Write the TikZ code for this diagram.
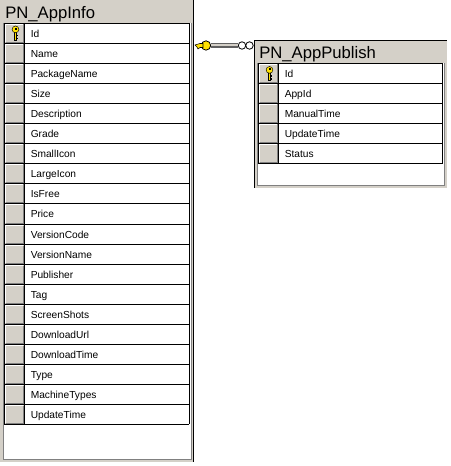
\documentclass[tikz,border=0pt]{standalone}
\usepackage{fontspec}
\setmainfont{Liberation Sans}
\definecolor{chrome}{RGB}{212,208,200}
\definecolor{framegray}{RGB}{128,128,128}
\definecolor{keygold}{RGB}{255,225,0}
\tikzset{
  x=0.75pt,y=-0.75pt,
  frame/.style={fill=chrome,inner sep=0pt,anchor=north west},
  rowtext/.style={anchor=base west,inner sep=0pt,font=\fontsize{7.65}{9}\selectfont,text=black},
  titletext/.style={anchor=base west,inner sep=0pt,font=\fontsize{12.5}{14}\selectfont,text=black},
  grid/.style={draw=black,line width=0.75pt},
  edge/.style={draw=black,line width=0.75pt},
  inner/.style={draw=framegray,line width=0.75pt},
  relline/.style={draw=framegray!75!black,line width=3.2pt},
  relcore/.style={draw=chrome,line width=1.5pt},
  ring/.style={circle,draw=black,fill=white,line width=0.6pt,minimum size=5.6pt,inner sep=0pt},
  hub/.style={circle,draw=black,fill=keygold,line width=0.6pt,minimum size=7pt,inner sep=0pt},
  keyshape/.style={draw=black,fill=keygold,line width=0.4pt}
}
\newcommand{\pkey}[2]{%
  \fill[keygold,draw=black,line width=0.35pt] (#1-1.2,#2-1) -- (#1+1.2,#2-1) -- (#1+1.2,#2+7) -- (#1-1.2,#2+7) -- cycle;
  \fill[black] (#1+1.2,#2+2) rectangle (#1+2.8,#2+3.2);
  \fill[black] (#1+1.2,#2+5) rectangle (#1+2.8,#2+6.2);
  \fill[keygold,draw=black,line width=0.35pt] (#1,#2-3.6) ellipse [x radius=3.4,y radius=3.4];
  \fill[black] (#1-1,#2-5) rectangle (#1+1,#2-3.4);
}
% table: #1 left px, #2 first row top, #3 right px, #4 list of rows
\newcommand{\tablerows}[4]{%
  \foreach \name [count=\i from 0] in {#4} {
    \pgfmathsetmacro{\yt}{round(#2+20.05*\i)+.5}
    \pgfmathsetmacro{\yb}{round(#2+20.05*(\i+1))+.5}
    \fill[chrome] (#1+1,\yt+.5) rectangle (#1+20,\yb-.5);
    \draw[white,line width=0.75pt] (#1+1.5,\yb-1.5) -- (#1+1.5,\yt+1) -- (#1+18.5,\yt+1);
    \draw[framegray,line width=0.75pt] (#1+1.5,\yb-1) -- (#1+19,\yb-1) -- (#1+19,\yt+1);
    \draw[grid] (#1,\yb) -- (#3,\yb);
    \node[rowtext] (r#1n\i) at (#1+26.5,\yt+14) {\name};
  }
}
\begin{document}
\begin{tikzpicture}
\useasboundingbox (0,0) rectangle (450,466);
\fill[white] (0,0) rectangle (450,466);
% left table
\node[frame,minimum width=144.75pt,minimum height=346.5pt] (appinfo) at (0,0) {};
\fill[white] (4,23) rectangle (191,459);
\draw[inner] (3.5,23) -- (3.5,459.5) -- (191.5,459.5) -- (191.5,23);
\draw[edge] (193.5,0) -- (193.5,462);
\node[titletext] (titleA) at (5,19) {PN\_AppInfo};
\draw[grid] (4,23.5) -- (189,23.5);
\tablerows{4}{23}{189}{Id,Name,PackageName,Size,Description,Grade,SmallIcon,LargeIcon,IsFree,Price,VersionCode,VersionName,Publisher,Tag,ScreenShots,DownloadUrl,DownloadTime,Type,MachineTypes,UpdateTime}
\draw[grid] (4.5,23) -- (4.5,424);
\draw[grid] (24.5,23) -- (24.5,424);
\draw[grid] (189.5,23) -- (189.5,424);
\pkey{15.5}{33}
% right table
\node[frame,minimum width=144.4pt,minimum height=110.6pt] (apppub) at (254.5,40.5) {};
\draw[edge] (254.5,188) -- (254.5,40.5) -- (447,40.5);
\fill[white] (258,63) rectangle (444,185);
\draw[inner] (257.5,63) -- (257.5,185.5) -- (444.5,185.5) -- (444.5,63);
\node[titletext] (titleB) at (259,59) {PN\_AppPublish};
\draw[grid] (258,63.5) -- (443,63.5);
\tablerows{258}{63}{443}{Id,AppId,ManualTime,UpdateTime,Status}
\draw[grid] (258.5,63) -- (258.5,164);
\draw[grid] (278.5,63) -- (278.5,164);
\draw[grid] (442.5,63) -- (442.5,164);
\pkey{269.5}{73.5}
% relationship
\node[hub] (hubA) at (206,45.5) {};
\node[ring] (ringA) at (242,45.5) {};
\node[ring] (ringB) at (249.5,45.5) {};
\draw[relline] (hubA) -- (ringA);
\draw[relcore] (hubA) -- (ringA);
\draw[keyshape] (195,45) -- (200,43.5) -- (203,43.5) -- (203,47.5) -- (200,47.5) -- (198,49) -- (197,47) -- cycle;
\end{tikzpicture}
\end{document}
